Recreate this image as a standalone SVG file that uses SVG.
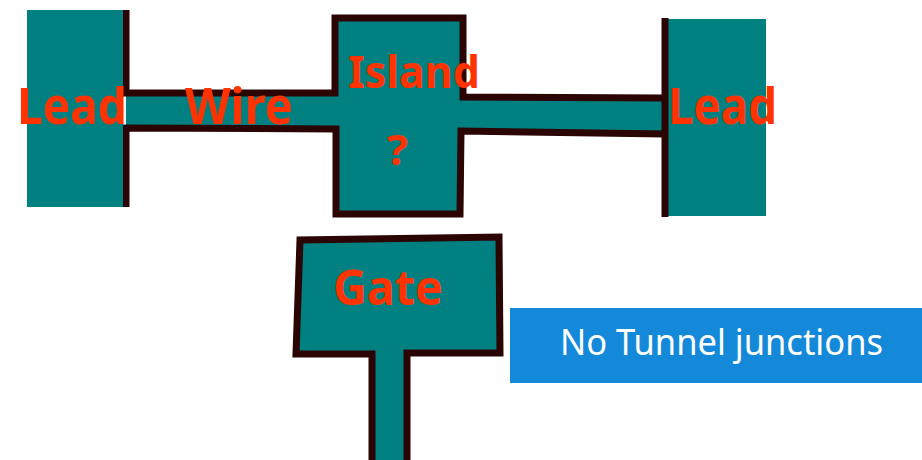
<svg xmlns="http://www.w3.org/2000/svg" width="922" height="460" viewBox="0 0 922 460">
<style>
.teal{fill:#008080}
.ol{fill:none;stroke:#2b0404;stroke-width:7;stroke-linejoin:miter}
.olf{fill:#008080;stroke:#2b0404;stroke-width:7}
.lbl{font-family:"Noto Sans","DejaVu Sans",sans-serif;font-weight:bold;fill:#ff3300}
.note{font-family:"Noto Sans","DejaVu Sans",sans-serif;fill:#ffffff;font-size:36px}
</style>
<rect width="922" height="460" fill="#ffffff"/>
<g id="wire-island">
<path class="teal" d="M126,93 L335,93 L335,18 L463,18 L463,97 L665,98 L665,134 L461,131 L460,214 L336,214 L336,129 L126,128 Z"/>
<path class="ol" d="M126,10 V93 L335,93 V18 H463 V97 L665,98"/>
<path class="ol" d="M126,207 V128 L336,129 V214 L460,214 L461,131 L665,134"/>
</g>
<g id="lead-left">
<rect class="teal" x="27" y="10" width="96" height="197"/>
</g>
<g id="lead-right">
<rect class="teal" x="668" y="19" width="98" height="197"/>
<path class="ol" d="M665,18 V217"/>
</g>
<g id="gate">
<path class="olf" d="M372,465 L372,354 L296,354 L300,240 L499,237 L500,353 L407,353 L407,465"/>
</g>
<g id="labels">
<text class="lbl" x="17" y="124" font-size="50" textLength="110" lengthAdjust="spacingAndGlyphs">Lead</text>
<text class="lbl" x="185" y="124" font-size="50" textLength="108" lengthAdjust="spacingAndGlyphs">Wire</text>
<text class="lbl" x="348" y="88" font-size="44" textLength="132" lengthAdjust="spacingAndGlyphs">Island</text>
<text class="lbl" x="387" y="165" font-size="42" textLength="21" lengthAdjust="spacingAndGlyphs">?</text>
<text class="lbl" x="668" y="124" font-size="50" textLength="109" lengthAdjust="spacingAndGlyphs">Lead</text>
<text class="lbl" x="333" y="305" font-size="49" textLength="110" lengthAdjust="spacingAndGlyphs">Gate</text>
</g>
<g id="note">
<rect x="510" y="308" width="412" height="75" fill="#1589d9"/>
<text class="note" x="560" y="355" textLength="323" lengthAdjust="spacingAndGlyphs">No Tunnel junctions</text>
</g>
</svg>
